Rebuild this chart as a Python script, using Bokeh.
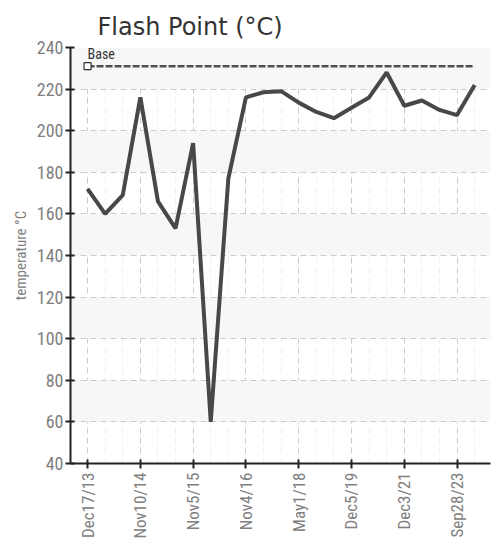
import math
from bokeh.plotting import figure
from bokeh.models import FixedTicker, Range1d, Label, Title, ColumnDataSource
from bokeh.embed import file_html
from bokeh.resources import INLINE

# ---- data ----
flash_point = [172, 160, 169, 216, 166, 153, 194, 60, 177, 216, 218.5, 219,
               213.5, 209, 206, 211, 216, 228, 212, 214.5, 210, 207.5, 222]
sample_index = list(range(len(flash_point)))
tick_positions = [0, 3, 6, 9, 12, 15, 18, 21]
tick_labels = ["Dec17/13", "Nov10/14", "Nov5/15", "Nov4/16",
               "May1/18", "Dec5/19", "Dec3/21", "Sep28/23"]
y_ticks = [40, 60, 80, 100, 120, 140, 160, 180, 200, 220, 240]
base_value = 231
base_label = "Base"

NARROW = "'Liberation Sans Narrow', 'Arial Narrow', 'Roboto Condensed', sans-serif"

p = figure(frame_width=420, frame_height=416, output_backend="svg", toolbar_location=None,
           x_range=Range1d(-0.97, 22.9), y_range=Range1d(40, 240),
           min_border_left=70, min_border_right=5, min_border_top=47,
           min_border_bottom=66, title=None)
p.outline_line_color = None

t = Title(text="Flash Point (°C)", text_font="DejaVu Sans", text_font_size="24px",
          text_font_style="normal", text_color="#333333", offset=27, standoff=10,
          vertical_align="top")
p.add_layout(t, "above")

# axes
p.xaxis.ticker = FixedTicker(ticks=tick_positions, minor_ticks=sample_index)
p.xaxis.major_label_overrides = {pos: lab for pos, lab in zip(tick_positions, tick_labels)}
p.xaxis.major_label_orientation = math.pi / 2
p.yaxis.ticker = FixedTicker(ticks=y_ticks)
p.yaxis.axis_label = "temperature °C"

for ax in (p.xaxis[0], p.yaxis[0]):
    ax.axis_line_color = "#222222"
    ax.axis_line_width = 2
    ax.major_tick_line_color = "#222222"
    ax.major_tick_line_width = 2
    ax.major_tick_in = 4
    ax.major_tick_out = 5
    ax.minor_tick_line_color = None
    ax.major_label_text_font = NARROW
    ax.major_label_text_color = "#808080"
    ax.major_label_standoff = 4

p.xaxis.major_label_text_font_size = "17px"
p.yaxis.major_label_text_font_size = "18px"
p.yaxis.major_label_standoff = 2

p.yaxis.axis_label_text_font = NARROW
p.yaxis.axis_label_text_font_size = "15px"
p.yaxis.axis_label_text_font_style = "normal"
p.yaxis.axis_label_text_color = "#808080"
p.yaxis.axis_label_standoff = 4

# grids
p.xgrid.grid_line_color = "#cccccc"
p.xgrid.grid_line_dash = "6 4"
p.xgrid.grid_line_width = 1
p.xgrid.minor_grid_line_color = "#f0f0f0"
p.xgrid.minor_grid_line_dash = "6 4"
p.ygrid.grid_line_color = "#cccccc"
p.ygrid.grid_line_dash = "6 4"
p.ygrid.grid_line_width = 1
p.ygrid.band_fill_color = "#f7f7f7"
p.ygrid.band_fill_alpha = 1.0

# base line
bx = [sample_index[0], sample_index[-1]]
p.line(bx, [base_value, base_value], line_color="#505050", line_width=2.5,
       line_dash="7 2")
p.scatter([sample_index[0]], [base_value], marker="square", size=7,
          fill_color="white", line_color="#333333", line_width=1.2)
p.add_layout(Label(x=sample_index[0], y=base_value, text=base_label,
                   x_offset=0, y_offset=4, text_font=NARROW,
                   text_font_size="14px", text_color="#333333"))

# data line
src = ColumnDataSource(dict(x=sample_index, y=flash_point))
p.line("x", "y", source=src, line_color="#484848", line_width=4)

open("out.html", "w").write(file_html(p, INLINE))
